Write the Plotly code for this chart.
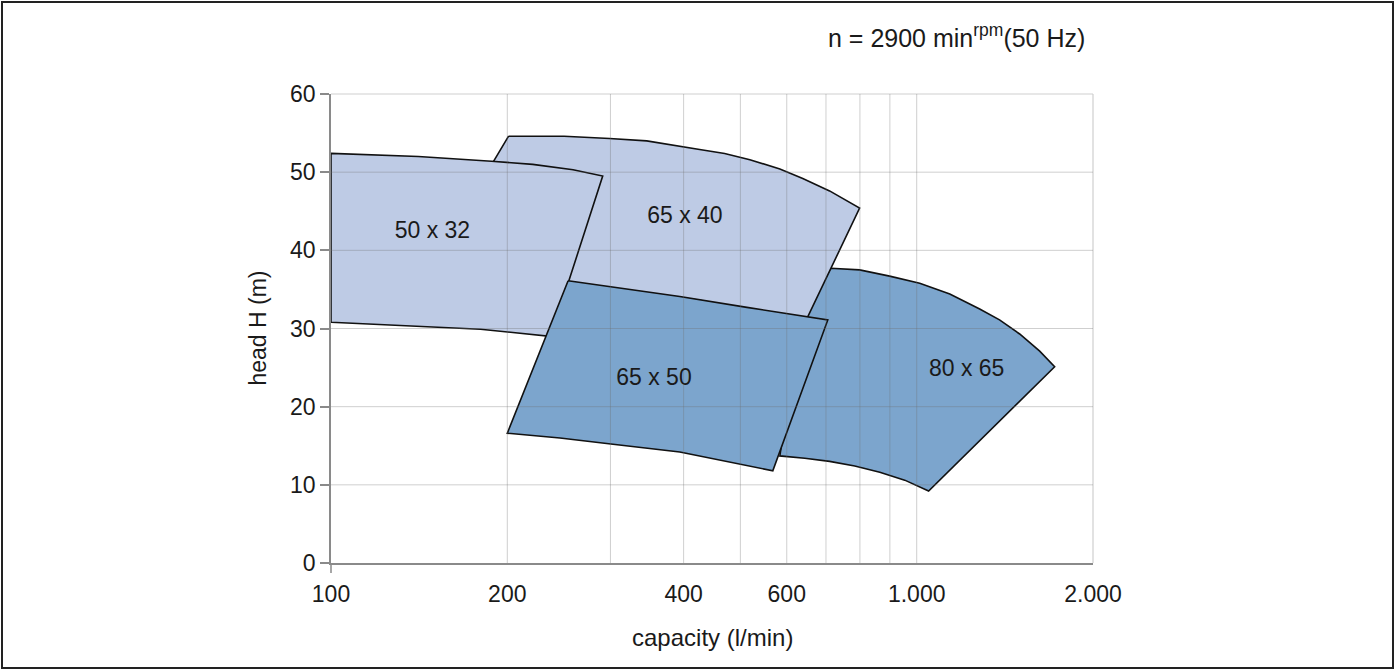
import math
import plotly.graph_objects as go

# ---- data (capacity in l/min, head in m) ----
cap_50x32 = [100, 141, 188, 221, 259, 291, 255, 236.5, 180, 141, 100]
head_50x32 = [52.4, 52.0, 51.4, 51.0, 50.3, 49.5, 36.2, 29.0, 29.9, 30.3, 30.8]

cap_65x40 = [201, 250, 299, 346, 426, 470, 519, 584, 639, 710, 799, 647, 426, 255, 180, 148]
head_65x40 = [54.6, 54.6, 54.3, 54.0, 52.9, 52.4, 51.6, 50.4, 49.2, 47.6, 45.4, 31.0, 33.6, 35.9, 37.2, 37.9]

cap_65x50 = [254, 394, 513, 644, 705, 568, 480, 394, 303, 246, 200]
head_65x50 = [36.1, 34.1, 32.7, 31.5, 31.1, 11.8, 12.9, 14.2, 15.2, 16.0, 16.6]

cap_80x65 = [713, 799, 899, 1012, 1139, 1281, 1385, 1499, 1622, 1720,
             1048, 954, 865, 784, 710, 644, 584, 631]
head_80x65 = [37.7, 37.5, 36.7, 35.8, 34.4, 32.5, 31.1, 29.3, 27.1, 25.1,
              9.2, 10.6, 11.6, 12.4, 13.0, 13.4, 13.7, 30.9]

labels = ["50 x 32", "65 x 40", "65 x 50", "80 x 65"]
label_cap = [149, 402, 356, 1217]
label_head = [42.3, 44.2, 23.5, 24.7]

x_grid = [100, 200, 300, 400, 500, 600, 700, 800, 900, 1000, 2000]
x_tickvals = [100, 200, 400, 600, 1000, 2000]
x_ticktext = ["100", "200", "400", "600", "1.000", "2.000"]
y_grid = [0, 10, 20, 30, 40, 50, 60]

LIGHT = "#BECBE5"
DARK = "#7CA5CD"
GRID_OVER = "rgba(110,110,110,0.33)"
GRID_EDGE = "#cfcfcf"
AXIS = "#8a8a8a"
FONT = "Liberation Sans, Arial, Helvetica, sans-serif"

fig = go.Figure()

# draw order: 80x65 at the back, then 65x40, 50x32, 65x50 on top
polys = [
    (cap_80x65, head_80x65, DARK),
    (cap_65x40, head_65x40, LIGHT),
    (cap_50x32, head_50x32, LIGHT),
    (cap_65x50, head_65x50, DARK),
]
for cx, hy, col in polys:
    fig.add_trace(go.Scatter(
        x=cx + [cx[0]], y=hy + [hy[0]], mode="lines", fill="toself",
        fillcolor=col, line=dict(color="#111111", width=1.6),
        hoverinfo="skip", showlegend=False))

# interior grid lines drawn over the fills (as in the reference)
gx, gy = [], []
for v in x_grid[1:-1]:
    gx += [v, v, None]
    gy += [y_grid[0], y_grid[-1], None]
for v in y_grid[1:-1]:
    gx += [x_grid[0], x_grid[-1], None]
    gy += [v, v, None]
fig.add_trace(go.Scatter(x=gx, y=gy, mode="lines",
                         line=dict(color=GRID_OVER, width=1),
                         hoverinfo="skip", showlegend=False))

fig.add_trace(go.Scatter(x=label_cap, y=label_head, mode="text", text=labels,
                         textfont=dict(family=FONT, size=23, color="#1a1a1a"),
                         hoverinfo="skip", showlegend=False))

L, R, T, B = 331, 304, 94, 107
W, H = 1397, 670
pw, ph = W - L - R, H - T - B

def px(xp):
    return (xp - L) / pw

def py(yp):
    return (H - B - yp) / ph

fig.update_layout(
    width=W, height=H,
    margin=dict(l=L, r=R, t=T, b=B),
    paper_bgcolor="white", plot_bgcolor="white",
    font=dict(family=FONT, size=23, color="#1a1a1a"),
    xaxis=dict(type="log", range=[math.log10(x_grid[0]), math.log10(x_grid[-1])],
               tickvals=x_tickvals, ticktext=x_ticktext, showgrid=False,
               showline=True, linecolor=AXIS, linewidth=1.5,
               ticks="outside", ticklen=10, tickcolor="rgba(0,0,0,0)",
               tickfont=dict(size=23), zeroline=False, fixedrange=True),
    yaxis=dict(range=[y_grid[0], y_grid[-1]], tickvals=y_grid, showgrid=False,
               showline=True, linecolor=AXIS, linewidth=1.5,
               ticks="outside", ticklen=9, tickcolor=AXIS, tickwidth=1.5,
               tickfont=dict(size=23), zeroline=False, fixedrange=True),
    annotations=[
        dict(text="capacity (l/min)", xref="paper", yref="paper",
             x=px(712), y=py(637), showarrow=False, xanchor="center", yanchor="middle",
             font=dict(size=24)),
        dict(text="head H (m)", xref="paper", yref="paper", textangle=-90,
             x=px(257), y=0.5, showarrow=False, xanchor="center", yanchor="middle",
             font=dict(size=23)),
        dict(text="n = 2900 min<sup>rpm</sup>(50 Hz)", xref="paper", yref="paper",
             x=px(1087), y=py(36), showarrow=False, xanchor="right", yanchor="middle",
             font=dict(size=25)),
    ],
    shapes=[
        # top (60) and right (2.000) grid lines on the plot edges
        dict(type="line", xref="paper", yref="paper", x0=0, x1=1, y0=1, y1=1,
             line=dict(color=GRID_EDGE, width=1.2), layer="below"),
        dict(type="line", xref="paper", yref="paper", x0=1, x1=1, y0=0, y1=1,
             line=dict(color=GRID_EDGE, width=1.2), layer="below"),
        # the y axis line continues a little below the x axis
        dict(type="line", xref="paper", yref="paper", x0=0, x1=0, y0=0, y1=py(H - B + 10),
             line=dict(color=AXIS, width=1.5)),
        dict(type="rect", xref="paper", yref="paper",
             x0=px(2), x1=px(1393), y0=py(668), y1=py(2),
             line=dict(color="#222222", width=2), fillcolor="rgba(0,0,0,0)", layer="above"),
    ],
)

fig.write_html("out.html", config={"displayModeBar": False},
               post_script="document.body.style.margin='0';")
